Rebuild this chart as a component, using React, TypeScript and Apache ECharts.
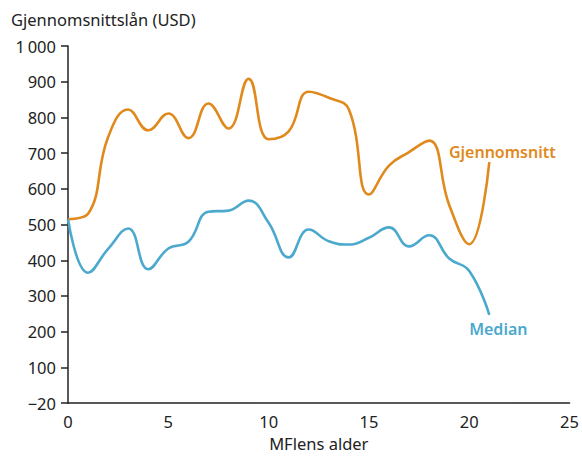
import React, { useEffect, useRef } from "react";
import * as echarts from "echarts";

const ages = [0, 1, 2, 3, 4, 5, 6, 7, 8, 9, 10, 11, 12, 13, 14, 15, 16, 17, 18, 19, 20, 21];
const meanValues = [515, 530, 745, 822, 764, 811, 742, 839, 769, 908, 739, 761, 872, 855, 822, 584, 665, 703, 735, 555, 445, 675];
const medianValues = [515, 365, 432, 489, 375, 433, 452, 536, 539, 567, 505, 408, 486, 453, 444, 463, 492, 439, 470, 405, 370, 247];
const yTickValues = [0, 100, 200, 300, 400, 500, 600, 700, 800, 900, 1000];
const yTickLabels = ["\u221220", "100", "200", "300", "400", "500", "600", "700", "800", "900", "1\u2009000"];
const xTickValues = [0, 5, 10, 15, 20, 25];

const ORANGE = "#e0891c";
const BLUE = "#4aa9cd";
const TEXT = "#222222";
const FONT = "'Noto Sans', sans-serif";

export default function App() {
  const ref = useRef<HTMLDivElement>(null);
  useEffect(() => {
    if (!ref.current) return;
    const chart = echarts.init(ref.current, undefined, { renderer: "svg" });
    const mean = ages.map((a, i) => [a, meanValues[i]]);
    const median = ages.map((a, i) => [a, medianValues[i]]);
    const last = ages.length - 1;
    chart.setOption({
      animation: false,
      textStyle: { fontFamily: FONT },
      grid: { left: 68, right: 10, top: 46, bottom: 51, containLabel: false },
      xAxis: {
        type: "value",
        min: 0,
        max: 25,
        interval: 5,
        name: "MFlens alder",
        nameLocation: "middle",
        nameGap: 31,
        nameTextStyle: { color: TEXT, fontSize: 16.5, fontFamily: FONT },
        axisLine: { show: true, lineStyle: { color: TEXT, width: 1.5 } },
        axisTick: { show: false },
        splitLine: { show: false },
        axisLabel: {
          color: TEXT,
          fontSize: 16.5,
          margin: 10,
          fontFamily: FONT,
          formatter: (v: number) => (xTickValues.includes(v) ? String(v) : ""),
        },
      },
      yAxis: {
        type: "value",
        min: 0,
        max: 1000,
        interval: 100,
        name: "Gjennomsnittslån (USD)",
        nameLocation: "end",
        nameGap: 18,
        nameTextStyle: { color: TEXT, fontSize: 16.5, align: "left", padding: [0, 0, 0, -57], fontFamily: FONT },
        axisLine: { show: true, lineStyle: { color: TEXT, width: 1.5 } },
        axisTick: { show: true, length: 7, lineStyle: { color: TEXT, width: 1.5 } },
        splitLine: { show: false },
        axisLabel: {
          color: TEXT,
          fontSize: 16.5,
          margin: 12,
          fontFamily: FONT,
          formatter: (v: number) => {
            const idx = yTickValues.indexOf(v);
            return idx >= 0 ? yTickLabels[idx] : "";
          },
        },
      },
      series: [
        {
          name: "Gjennomsnitt",
          type: "line",
          data: mean,
          smooth: 0.45,
          showSymbol: false,
          symbol: "none",
          lineStyle: { color: ORANGE, width: 2.6 },
          itemStyle: { color: ORANGE },
          markPoint: {
            symbol: "circle",
            symbolSize: 0,
            data: [
              {
                coord: [ages[last], meanValues[last]],
                label: {
                  show: true,
                  formatter: "Gjennomsnitt",
                  color: ORANGE,
                  fontSize: 16,
                  fontWeight: 600,
                  fontFamily: FONT,
                  offset: [13, -10],
                },
              },
            ],
          },
        },
        {
          name: "Median",
          type: "line",
          data: median,
          smooth: 0.45,
          showSymbol: false,
          symbol: "none",
          lineStyle: { color: BLUE, width: 2.6 },
          itemStyle: { color: BLUE },
          markPoint: {
            symbol: "circle",
            symbolSize: 0,
            data: [
              {
                coord: [ages[last], medianValues[last]],
                label: {
                  show: true,
                  formatter: "Median",
                  color: BLUE,
                  fontSize: 16,
                  fontWeight: 600,
                  fontFamily: FONT,
                  offset: [9, 14],
                },
              },
            ],
          },
        },
      ],
    });
    return () => chart.dispose();
  }, []);
  return <div ref={ref} style={{ width: 582, height: 457, position: "absolute", left: 0, top: 0 }} />;
}
